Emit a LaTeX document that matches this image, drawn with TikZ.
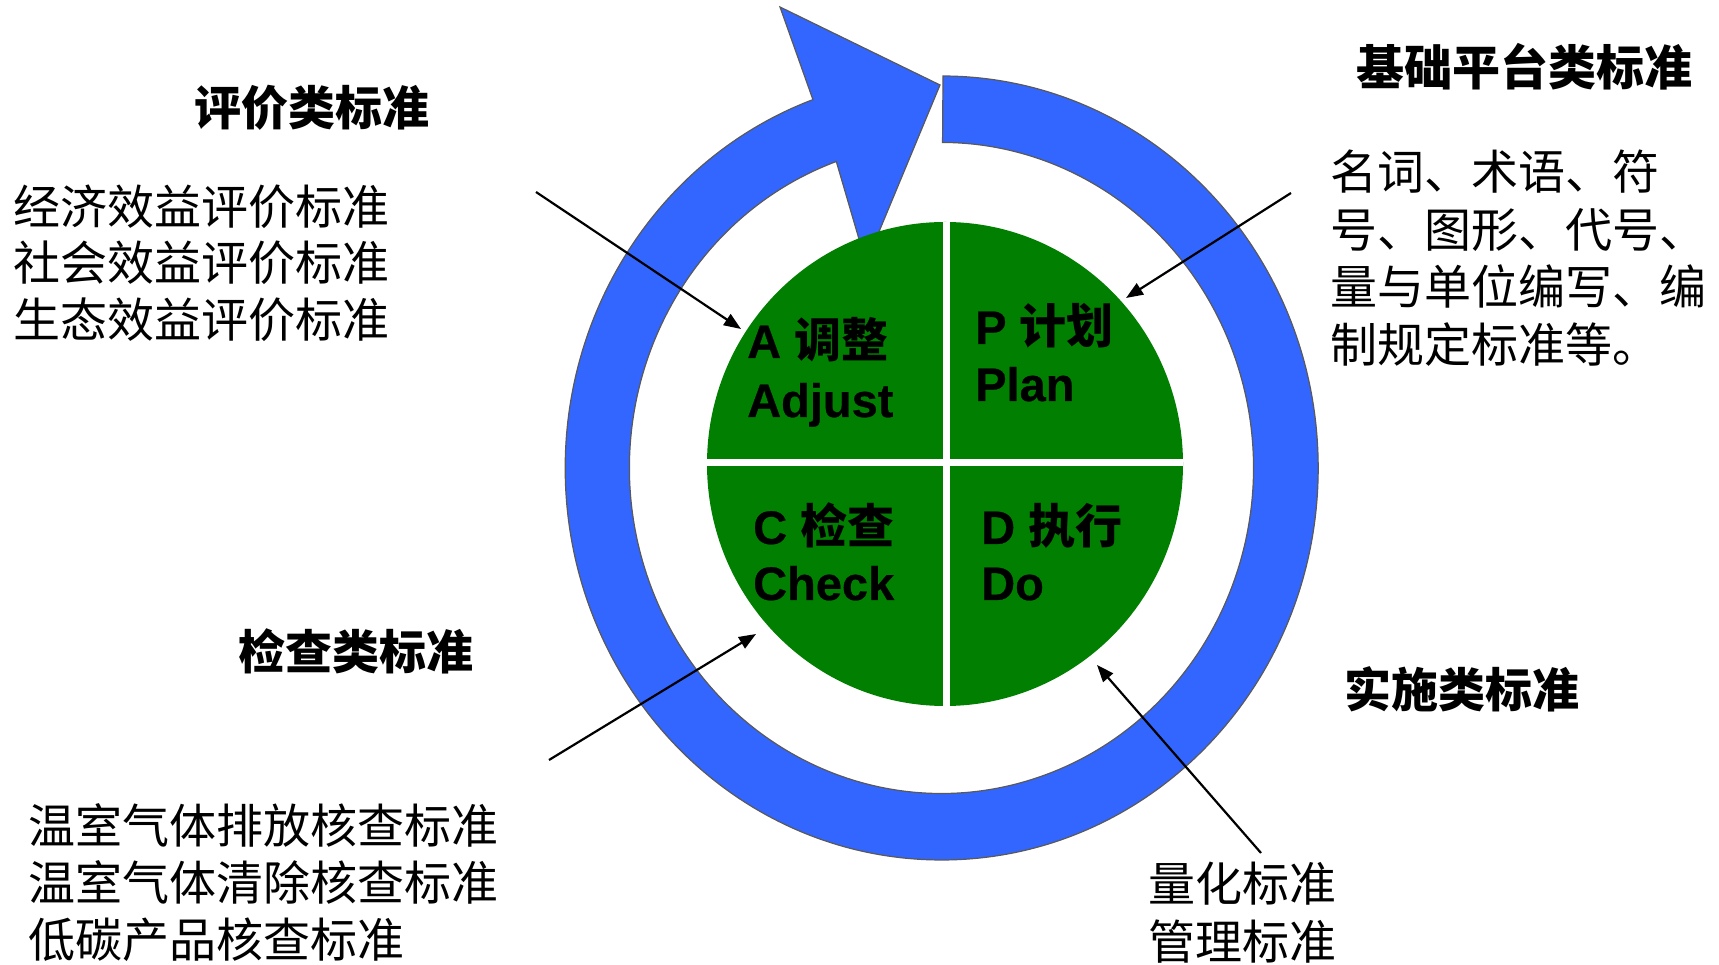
\documentclass[tikz,border=0pt]{standalone}
\usepackage{fontspec}
\setmainfont{Liberation Sans}
\newfontfamily\cjk{Noto Sans CJK SC}
\newfontfamily\quadfont[BoldFeatures={FakeBold=0.5}]{Liberation Sans}
\usetikzlibrary{arrows.meta}
\definecolor{ringblue}{HTML}{3366FF}
\definecolor{pdcagreen}{HTML}{007F00}
\begin{document}
\begin{tikzpicture}[x=1pt,y=1pt,
  bodytext/.style={anchor=base west, inner sep=0pt, font=\cjk\fontsize{47}{57}\selectfont},
  headtext/.style={anchor=base west, inner sep=0pt, font=\cjk\bfseries\fontsize{47}{57}\selectfont},
  quadtext/.style={anchor=base west, inner sep=0pt, font=\quadfont\bfseries\fontsize{47}{57}\selectfont},
  pointer/.style={draw=black, line width=2.2pt, -{Triangle[length=17pt,width=13pt]}},
  ringshape/.style={fill=ringblue, draw=black!65, line width=1.2pt},
  crossline/.style={fill=white},
]
\useasboundingbox (0,0) rectangle (1719,964);

% blue cycle arrow
\path[ringshape] (943,888)
  arc[start angle=89.8, end angle=-250, x radius=376.5, y radius=392]
  -- (780,957) -- (940,879) -- (866,701) -- (836.3,802.5)
  arc[start angle=-250.3, end angle=89.8, x radius=312, y radius=325.5]
  -- cycle;

% green PDCA disc
\fill[pdcagreen] (945,500) ellipse [x radius=238, y radius=242];
\begin{scope}
  \clip (945,500) ellipse [x radius=238, y radius=242];
  \fill[crossline] (943,240) rectangle (950,760);
  \fill[crossline] (690,497.5) rectangle (1200,504.5);
\end{scope}

% quadrant labels
\node[quadtext] (qa1) at (747,606) {A {\cjk 调整}};
\node[quadtext] (qa2) at (747,547) {Adjust};
\node[quadtext] (qp1) at (975,620) {P {\cjk 计划}};
\node[quadtext] (qp2) at (975,563) {Plan};
\node[quadtext] (qc1) at (753,420) {C {\cjk 检查}};
\node[quadtext] (qc2) at (753,364) {Check};
\node[quadtext] (qd1) at (981,420) {D {\cjk 执行}};
\node[quadtext] (qd2) at (981,364) {Do};

% headings
\node[headtext] (hpj) at (194,838.5) {评价类标准};
\node[headtext, font=\cjk\bfseries\fontsize{48}{57}\selectfont] (hjc) at (1356,878) {基础平台类标准};
\node[headtext] (hjz) at (238,294) {检查类标准};
\node[headtext] (hss) at (1344,256) {实施类标准};

% left top block
\node[bodytext] (l1) at (13,739) {经济效益评价标准};
\node[bodytext] (l2) at (13,683) {社会效益评价标准};
\node[bodytext] (l3) at (13,626) {生态效益评价标准};

% right top block
\node[bodytext] (r1) at (1330,774) {名词、术语、符};
\node[bodytext] (r2) at (1330,716) {号、图形、代号、};
\node[bodytext] (r3) at (1330,659) {量与单位编写、编};
\node[bodytext] (r4) at (1330,601) {制规定标准等。};

% bottom left block
\node[bodytext] (b1) at (28,120) {温室气体排放核查标准};
\node[bodytext] (b2) at (28,63) {温室气体清除核查标准};
\node[bodytext] (b3) at (28,7) {低碳产品核查标准};

% bottom right block
\node[bodytext] (m1) at (1148,62) {量化标准};
\node[bodytext] (m2) at (1148,5) {管理标准};

% pointer arrows
\coordinate (pa0) at (536,772);
\coordinate (pa1) at (741,635);
\coordinate (pp0) at (1291,771);
\coordinate (pp1) at (1126,666);
\coordinate (pc0) at (549,204);
\coordinate (pc1) at (756,330);
\coordinate (pd0) at (1261,111);
\coordinate (pd1) at (1097,299);
\draw[pointer] (pa0) -- (pa1);
\draw[pointer] (pp0) -- (pp1);
\draw[pointer] (pc0) -- (pc1);
\draw[pointer] (pd0) -- (pd1);
\end{tikzpicture}
\end{document}
